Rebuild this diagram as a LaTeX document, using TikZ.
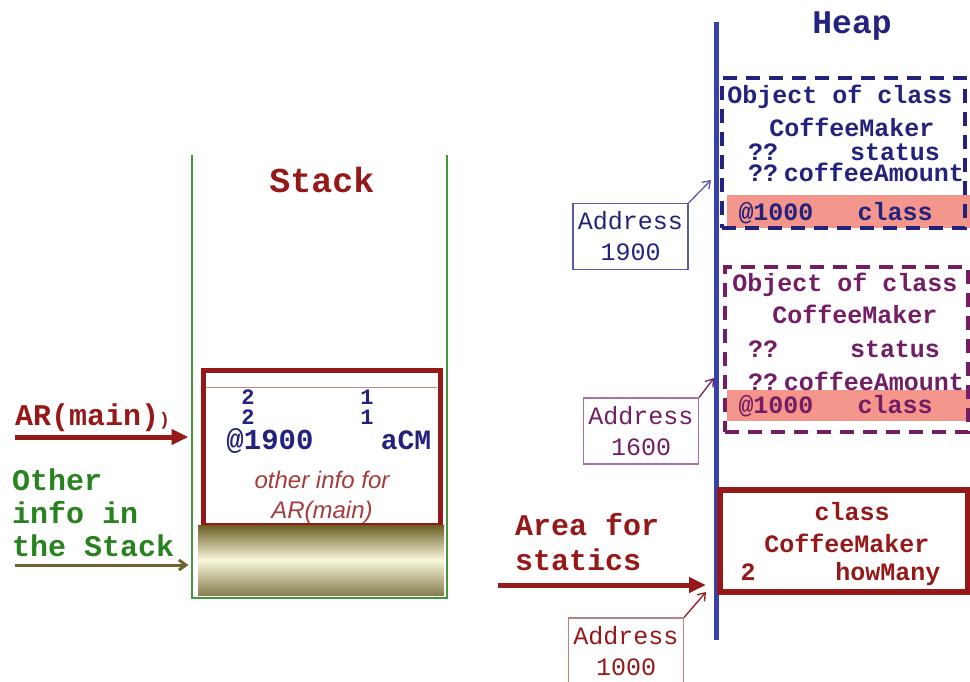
\documentclass[tikz,border=0pt]{standalone}
\usepackage{fontspec}
\usetikzlibrary{arrows.meta, positioning, calc}
\usepackage{xcolor}
\newfontfamily\cour{Liberation Mono}
\newfontfamily\arialf{Liberation Sans}
\newcommand\fsz[1]{\fontsize{#1}{#1}\selectfont}
\definecolor{stackred}{RGB}{150,25,25}
\definecolor{stackgreen}{RGB}{70,150,60}
\definecolor{othergreen}{RGB}{40,130,30}
\definecolor{olivearrow}{RGB}{110,100,50}
\definecolor{olivedark}{RGB}{105,95,35}
\definecolor{cream}{RGB}{250,248,220}
\definecolor{heapblue}{RGB}{55,65,170}
\definecolor{navytext}{RGB}{35,35,125}
\definecolor{objpurple}{RGB}{115,30,100}
\definecolor{pinkband}{RGB}{245,150,140}
\definecolor{addrnavy}{RGB}{90,90,170}
\definecolor{addrpurple}{RGB}{165,115,165}
\definecolor{addrred}{RGB}{185,130,130}
\definecolor{infored}{RGB}{165,60,60}

\begin{document}
\begin{tikzpicture}[x=1pt, y=-1pt,
    txt/.style={inner sep=0pt, anchor=base, font=\cour\bfseries\fsz{25}},
    digit/.style={txt, navytext, font=\cour\bfseries\fsz{22}, text height=14pt, text depth=0pt},
    title/.style={inner sep=0pt, anchor=base, font=\cour\bfseries\fsz{35}},
    side/.style={inner sep=0pt, anchor=base west, font=\cour\bfseries\fsz{30}},
    addr/.style={draw, line width=1.2, inner sep=0pt, align=center,
        minimum width=115, minimum height=66, font=\cour\fontsize{25}{31}\selectfont},
    objbox/.style={draw, line width=4, dash pattern=on 14pt off 9pt, inner sep=0pt},
    bigarrow/.style={line width=5, -{Triangle[length=17pt,width=15pt]}},
    thinarrow/.style={line width=1.3, -{Straight Barb[length=7pt,width=10pt]}}]

    \useasboundingbox (0,0) rectangle (970,681);
    \clip (0,0) rectangle (970,681);

    % Stack
    \draw[stackgreen, line width=2] (192,155) -- (192,598) -- (447,598) -- (447,155);
    \node[title, stackred] (stacktitle) at (322,192) {Stack};
    \node[draw=stackred, line width=5, minimum width=237, minimum height=155, inner sep=0pt] (arbox) at (321.5,447.5) {};
    \shade[top color=olivedark, bottom color=olivedark!80, middle color=cream] (198,525) rectangle (444,595);
    \draw[stackred!55, line width=1] (206,387) -- (437,387);

    % Activation record contents
    \node[digit] (n2a) at (248,404) {2};
    \node[digit] (n2b) at (248,424) {2};
    \node[digit] (n1a) at (367,404) {1};
    \node[digit] (n1b) at (367,424) {1};
    \node[txt, navytext, font=\cour\bfseries\fsz{29}, text height=19pt, text depth=1pt] (ref1900) at (270,449) {@1900};
    \node[txt, navytext, font=\cour\bfseries\fsz{28}, text height=19pt, text depth=1pt] (acm) at (406,449) {aCM};
    \node[txt, infored, font=\arialf\itshape\fsz{24}] (info1) at (322,488) {other info for};
    \node[txt, infored, font=\arialf\itshape\fsz{24}] (info2) at (322,518) {AR(main)};

    % Left labels
    \node[side, stackred] (armain) at (15,425) {AR(main){\fsz{18})}};
    \coordinate (arfrom) at (15,437);
    \draw[bigarrow, stackred, shorten >=12pt] (arfrom) -- (arfrom -| arbox.west);
    \node[side, othergreen] (other1) at (12,490) {Other};
    \node[side, othergreen] (other2) at (12,523) {info in};
    \node[side, othergreen] (other3) at (12,556) {the Stack};
    \coordinate (otherfrom) at (15,565);
    \draw[thinarrow, line width=3, olivearrow, shorten >=12pt] (otherfrom) -- (otherfrom -| arbox.west);

    % Heap
    \coordinate (heaptop) at (716,22);
    \coordinate (heapbot) at (716,640);
    \draw[heapblue, line width=5] (heaptop) -- (heapbot);
    \node[title, navytext, font=\cour\bfseries\fsz{33}] (heaptitle) at (852,33) {Heap};

    % first object
    \fill[pinkband] (727,195) rectangle (970,228);
    \node[objbox, navytext, minimum width=243, minimum height=150] (obj1) at (843.5,153) {};
    \node[txt, navytext] (o1a) at (840,103) {Object of class};
    \node[txt, navytext] (o1b) at (852,136) {CoffeeMaker};
    \node[txt, navytext] (o1c) at (763,160) {??};
    \node[txt, navytext] (o1d) at (895,160) {status};
    \node[txt, navytext] (o1e) at (763,181) {??};
    \node[txt, navytext] (o1f) at (874,181) {coffeeAmount};
    \node[txt, navytext] (o1g) at (776,220) {@1000};
    \node[txt, navytext] (o1h) at (895,220) {class};
    \node[addr, draw=addrnavy, text=navytext] (a1900) at (630.5,236.5) {Address\\1900};
    \coordinate (p1900) at (711,180);
    \draw[thinarrow, addrnavy] (a1900.north east) -- (p1900);

    % second object
    \fill[pinkband] (727,390) rectangle (970,421);
    \node[objbox, objpurple, minimum width=243, minimum height=165] (obj2) at (846.5,349.5) {};
    \node[txt, objpurple] (o2a) at (845,291) {Object of class};
    \node[txt, objpurple] (o2b) at (855,323) {CoffeeMaker};
    \node[txt, objpurple] (o2c) at (763,357) {??};
    \node[txt, objpurple] (o2d) at (895,357) {status};
    \node[txt, objpurple] (o2e) at (763,390) {??};
    \node[txt, objpurple] (o2f) at (874,390) {coffeeAmount};
    \node[txt, objpurple] (o2g) at (776,413) {@1000};
    \node[txt, objpurple] (o2h) at (895,413) {class};
    \node[addr, draw=addrpurple, text=objpurple] (a1600) at (641,431) {Address\\1600};
    \coordinate (p1600) at (714,378);
    \draw[thinarrow, objpurple] (a1600.north east) -- (p1600);

    % statics
    \node[draw=stackred, line width=6, minimum width=248, minimum height=102, inner sep=0pt] (statbox) at (844,541) {};
    \node[txt, stackred] (s1) at (852,520) {class};
    \node[txt, stackred] (s2) at (847,552) {CoffeeMaker};
    \node[txt, stackred] (s3) at (748,580) {2};
    \node[txt, stackred] (s4) at (888,580) {howMany};
    \node[side, stackred] (area1) at (515,535) {Area for};
    \node[side, stackred] (area2) at (515,570) {statics};
    \coordinate (statfrom) at (498,585);
    \draw[bigarrow, stackred, shorten >=10pt] (statfrom) -- (statfrom -| heaptop);
    \node[addr, draw=addrred, text=stackred] (a1000) at (626,651) {Address\\1000};
    \coordinate (p1000) at (706,592);
    \draw[thinarrow, stackred] (a1000.north east) -- (p1000);
\end{tikzpicture}
\end{document}
